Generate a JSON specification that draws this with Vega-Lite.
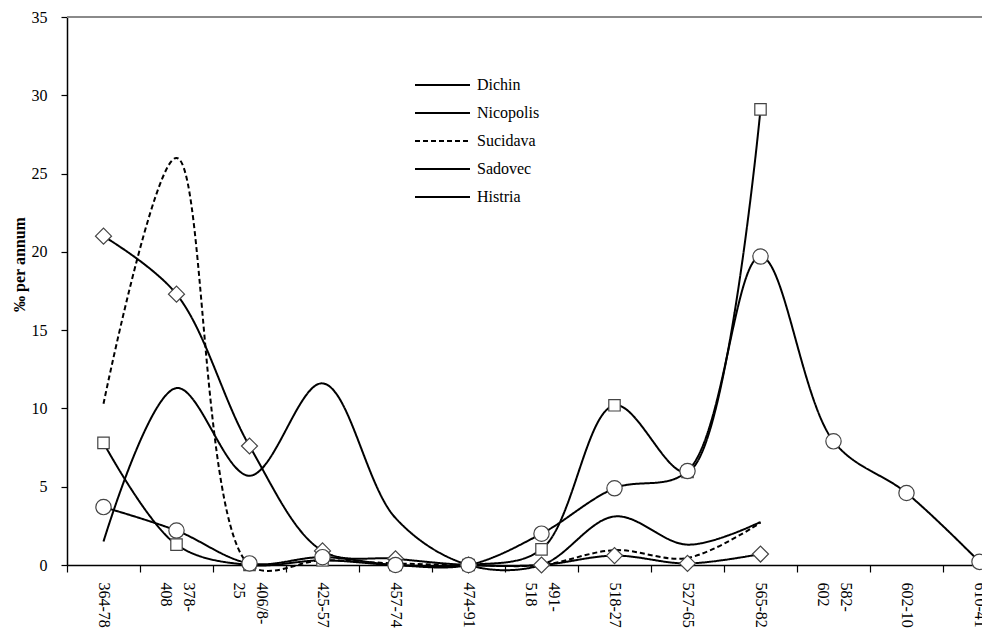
{
  "$schema": "https://vega.github.io/schema/vega-lite/v6.json",
  "width": 915,
  "height": 548,
  "autosize": {"type": "none"},
  "padding": {"left": 67, "top": 17, "right": 0, "bottom": 77},
  "background": "white",
  "config": {
    "view": {"stroke": null},
    "font": "Liberation Serif",
    "axis": {
      "domainColor": "black",
      "domainWidth": 1.5,
      "tickColor": "black",
      "tickWidth": 1.2,
      "labelColor": "black",
      "labelFont": "Liberation Serif",
      "labelFontSize": 16,
      "grid": false,
      "titleColor": "black"
    }
  },
  "data": {
    "values": [
      {"period": "364-78", "site": "Dichin", "value": 1.5},
      {"period": "378-408", "site": "Dichin", "value": 11.3},
      {"period": "406/8-25", "site": "Dichin", "value": 5.7},
      {"period": "425-57", "site": "Dichin", "value": 11.6},
      {"period": "457-74", "site": "Dichin", "value": 3.0},
      {"period": "474-91", "site": "Dichin", "value": 0},
      {"period": "491-518", "site": "Dichin", "value": 0},
      {"period": "518-27", "site": "Dichin", "value": 3.1},
      {"period": "527-65", "site": "Dichin", "value": 1.3},
      {"period": "565-82", "site": "Dichin", "value": 2.75},
      {"period": "364-78", "site": "Sucidava", "value": 10.3},
      {"period": "378-408", "site": "Sucidava", "value": 26.0},
      {"period": "406/8-25", "site": "Sucidava", "value": 0},
      {"period": "425-57", "site": "Sucidava", "value": 0.3},
      {"period": "457-74", "site": "Sucidava", "value": 0.1},
      {"period": "474-91", "site": "Sucidava", "value": 0},
      {"period": "491-518", "site": "Sucidava", "value": 0},
      {"period": "518-27", "site": "Sucidava", "value": 0.95},
      {"period": "527-65", "site": "Sucidava", "value": 0.45},
      {"period": "565-82", "site": "Sucidava", "value": 2.7},
      {"period": "364-78", "site": "Nicopolis", "value": 21.0},
      {"period": "378-408", "site": "Nicopolis", "value": 17.3},
      {"period": "406/8-25", "site": "Nicopolis", "value": 7.6},
      {"period": "425-57", "site": "Nicopolis", "value": 0.9},
      {"period": "457-74", "site": "Nicopolis", "value": 0.4},
      {"period": "474-91", "site": "Nicopolis", "value": 0},
      {"period": "491-518", "site": "Nicopolis", "value": 0},
      {"period": "518-27", "site": "Nicopolis", "value": 0.6},
      {"period": "527-65", "site": "Nicopolis", "value": 0.1},
      {"period": "565-82", "site": "Nicopolis", "value": 0.7},
      {"period": "364-78", "site": "Sadovec", "value": 7.8},
      {"period": "378-408", "site": "Sadovec", "value": 1.3},
      {"period": "406/8-25", "site": "Sadovec", "value": 0},
      {"period": "425-57", "site": "Sadovec", "value": 0.3},
      {"period": "457-74", "site": "Sadovec", "value": 0},
      {"period": "474-91", "site": "Sadovec", "value": 0},
      {"period": "491-518", "site": "Sadovec", "value": 1.0},
      {"period": "518-27", "site": "Sadovec", "value": 10.2},
      {"period": "527-65", "site": "Sadovec", "value": 5.95},
      {"period": "565-82", "site": "Sadovec", "value": 29.1},
      {"period": "364-78", "site": "Histria", "value": 3.7},
      {"period": "378-408", "site": "Histria", "value": 2.2},
      {"period": "406/8-25", "site": "Histria", "value": 0.1},
      {"period": "425-57", "site": "Histria", "value": 0.5},
      {"period": "457-74", "site": "Histria", "value": 0},
      {"period": "474-91", "site": "Histria", "value": 0},
      {"period": "491-518", "site": "Histria", "value": 2.0},
      {"period": "518-27", "site": "Histria", "value": 4.9},
      {"period": "527-65", "site": "Histria", "value": 6.0},
      {"period": "565-82", "site": "Histria", "value": 19.7},
      {"period": "582-602", "site": "Histria", "value": 7.9},
      {"period": "602-10", "site": "Histria", "value": 4.6},
      {"period": "610-41", "site": "Histria", "value": 0.2}
    ]
  },
  "encoding": {
    "x": {
      "field": "period",
      "type": "nominal",
      "sort": null,
      "scale": {
        "domain": ["364-78","378-408","406/8-25","425-57","457-74","474-91","491-518","518-27","527-65","565-82","582-602","602-10","610-41"],
        "range": [0, 949],
        "paddingInner": 0,
        "paddingOuter": 0
      },
      "axis": {
        "title": null,
        "labelAngle": 90,
        "tickBand": "extent",
        "tickSize": 7,
        "labelPadding": 10,
        "labelLineHeight": 23,
        "labelOffset": {
          "condition": {"test": "indexof(['378-408','406/8-25','491-518','582-602'], datum.value) >= 0", "value": 12},
          "value": 0
        },
        "labelExpr": "indexof(['378-408','406/8-25','491-518','582-602'], datum.value) >= 0 ? [split(datum.value, '-')[0] + '-', split(datum.value, '-')[1]] : datum.value"
      }
    },
    "y": {
      "field": "value",
      "type": "quantitative",
      "scale": {"domain": [0, 35], "nice": false, "zero": true},
      "axis": {
        "title": "‰ per annum",
        "values": [0, 5, 10, 15, 20, 25, 30, 35],
        "tickSize": 6,
        "labelPadding": 14,
        "titleFont": "Liberation Serif",
        "titleFontSize": 16,
        "titleFontWeight": "bold",
        "titleAngle": -90,
        "titleAlign": "center",
        "titleBaseline": "alphabetic",
        "titleX": -43,
        "titleY": 247
      }
    }
  },
  "layer": [
    {
      "mark": {"type": "rule", "color": "#8a8a8a", "strokeWidth": 1.5},
      "encoding": {"x": null, "y": {"datum": 35, "type": "quantitative"}}
    },
    {
      "mark": {"type": "line", "interpolate": "catmull-rom", "color": "black", "strokeWidth": 2},
      "encoding": {
        "strokeDash": {
          "field": "site",
          "type": "nominal",
          "scale": {
            "domain": ["Dichin","Nicopolis","Sucidava","Sadovec","Histria"],
            "range": [[1,0],[1,0],[5,3],[1,0],[1,0]]
          },
          "legend": {
            "title": null,
            "orient": "none",
            "legendX": 367.5,
            "legendY": 60,
            "symbolType": "M-5.5,0H5.5",
            "symbolSize": 100,
            "symbolStrokeColor": "black",
            "symbolStrokeWidth": 1.8,
            "labelFont": "Liberation Serif",
            "labelFontSize": 16,
            "labelColor": "black",
            "labelOffset": 26.5,
            "rowPadding": 12
          }
        }
      }
    },
    {
      "transform": [{"filter": {"field": "site", "equal": "Nicopolis"}}],
      "mark": {"type": "point", "shape": "diamond", "size": 256, "fill": "white", "stroke": "#444", "strokeWidth": 1.2, "opacity": 1, "filled": false}
    },
    {
      "transform": [{"filter": {"field": "site", "equal": "Sadovec"}}],
      "mark": {"type": "point", "shape": "square", "size": 130, "fill": "white", "stroke": "#444", "strokeWidth": 1.2, "opacity": 1, "filled": false}
    },
    {
      "transform": [{"filter": {"field": "site", "equal": "Histria"}}],
      "mark": {"type": "point", "shape": "circle", "size": 235, "fill": "white", "stroke": "#444", "strokeWidth": 1.2, "opacity": 1, "filled": false}
    }
  ]
}
